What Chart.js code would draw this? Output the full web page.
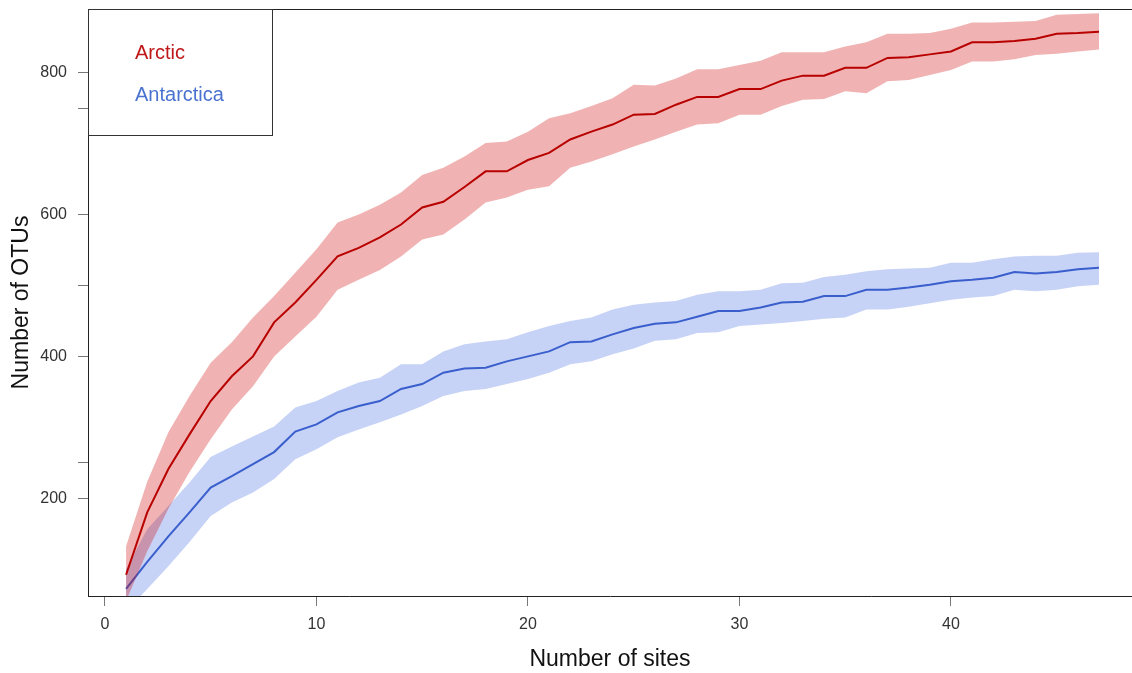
<!DOCTYPE html>
<html>
<head>
<meta charset="utf-8">
<style>
  body { margin: 0; background: #fff; }
  canvas { display: block; }
</style>
<script src="https://cdn.jsdelivr.net/npm/chart.js@4.4.1/dist/chart.umd.min.js"></script>
</head>
<body>
<canvas id="chart" width="1132" height="673"></canvas>
<script>
const sites = [1, 2, 3, 4, 5, 6, 7, 8, 9, 10, 11, 12, 13, 14, 15, 16, 17, 18, 19, 20, 21, 22, 23, 24,
  25, 26, 27, 28, 29, 30, 31, 32, 33, 34, 35, 36, 37, 38, 39, 40, 41, 42, 43, 44, 45, 46, 47];

const arcticMean = [92, 180, 241, 290, 337, 372, 400, 448, 476, 508, 541, 553, 568, 586, 610, 618,
  639, 661, 661, 677, 687, 706, 717, 727, 741, 742, 755, 766, 766, 777, 777, 789, 796, 796, 807, 807,
  821, 822, 826, 830, 843, 843, 845, 848, 855, 856, 858];
const arcticUpper = [132, 223, 293, 344, 391, 420, 455, 485, 518, 551, 589, 600, 614, 631, 656, 666,
  682, 701, 703, 717, 736, 743, 753, 764, 783, 782, 792, 805, 805, 811, 817, 829, 829, 829, 837, 843,
  855, 855, 856, 862, 871, 871, 872, 873, 882, 883, 884];
const arcticLower = [55, 125, 185, 237, 283, 325, 358, 400, 428, 456, 494, 508, 522, 541, 565, 572,
  593, 617, 624, 635, 640, 666, 675, 685, 696, 706, 717, 727, 729, 741, 741, 753, 762, 763, 774, 771,
  788, 790, 797, 804, 816, 816, 819, 825, 827, 830, 833];

const antarcticaMean = [72, 110, 146, 180, 215, 231, 248, 265, 294, 304, 321, 330, 337, 354, 361, 377,
  383, 384, 393, 400, 407, 420, 421, 431, 440, 446, 448, 456, 464, 464, 469, 476, 477, 485, 485, 494,
  494, 497, 501, 506, 508, 511, 519, 517, 519, 523, 525];
const antarcticaUpper = [100, 156, 189, 222, 258, 273, 287, 301, 328, 337, 351, 363, 370, 389, 389, 407,
  417, 421, 424, 434, 443, 450, 455, 466, 473, 476, 478, 487, 492, 492, 494, 503, 504, 512, 515, 520,
  523, 524, 525, 532, 532, 537, 541, 542, 542, 546, 547];
const antarcticaLower = [40, 72, 104, 138, 175, 194, 208, 227, 255, 269, 286, 297, 307, 318, 330, 344,
  351, 354, 361, 368, 377, 389, 393, 403, 411, 422, 424, 433, 434, 443, 445, 447, 450, 453, 455, 466,
  466, 470, 475, 480, 483, 485, 494, 492, 494, 499, 501];

const xTicks = [0, 10, 20, 30, 40];
const yTicks = [200, 250, 400, 500, 600, 750, 800];
const yLabelled = [200, 400, 600, 800];

const toPoints = (vals) => vals.map((v, i) => ({ x: sites[i], y: v }));

const FONT = "'Liberation Sans', Arial, Helvetica, sans-serif";

// box top edge, legend and axis titles
const extras = {
  id: "extras",
  afterDraw(chart) {
    const { ctx, chartArea } = chart;
    ctx.save();
    ctx.strokeStyle = "#222";
    ctx.lineWidth = 1;
    ctx.beginPath();
    ctx.moveTo(chartArea.left, chartArea.top + 0.5);
    ctx.lineTo(chartArea.right, chartArea.top + 0.5);
    ctx.stroke();

    // legend
    ctx.fillStyle = "#fff";
    ctx.fillRect(chartArea.left + 1, chartArea.top + 1, 183, 125);
    ctx.strokeStyle = "#333";
    ctx.strokeRect(chartArea.left + 0.5, chartArea.top + 0.5, 184, 126);
    ctx.font = "20px " + FONT;
    ctx.textAlign = "left";
    ctx.textBaseline = "alphabetic";
    ctx.fillStyle = "#c01818";
    ctx.fillText("Arctic", 135, 59);
    ctx.fillStyle = "#4a72d0";
    ctx.fillText("Antarctica", 135, 101);

    // axis titles
    ctx.fillStyle = "#111";
    ctx.font = "23px " + FONT;
    ctx.textAlign = "center";
    ctx.textBaseline = "middle";
    ctx.fillText("Number of sites", (chartArea.left + chartArea.right) / 2, 660);
    ctx.translate(22, (chartArea.top + chartArea.bottom) / 2);
    ctx.rotate(-Math.PI / 2);
    ctx.fillText("Number of OTUs", 0, 0);
    ctx.restore();
  },
};

const noPoint = { pointRadius: 0, pointHoverRadius: 0 };

new Chart(document.getElementById("chart"), {
  type: "line",
  data: {
    datasets: [
      { label: "Arctic", data: toPoints(arcticMean), borderColor: "#b80000", borderWidth: 2, fill: false, ...noPoint },
      { label: "Arctic upper", data: toPoints(arcticUpper), borderWidth: 0, borderColor: "transparent",
        backgroundColor: "rgba(205, 0, 0, 0.3)", fill: "+1", ...noPoint },
      { label: "Arctic lower", data: toPoints(arcticLower), borderWidth: 0, borderColor: "transparent", fill: false, ...noPoint },
      { label: "Antarctica", data: toPoints(antarcticaMean), borderColor: "#3a5fcd", borderWidth: 2, fill: false, ...noPoint },
      { label: "Antarctica upper", data: toPoints(antarcticaUpper), borderWidth: 0, borderColor: "transparent",
        backgroundColor: "rgba(65, 105, 225, 0.3)", fill: "+1", ...noPoint },
      { label: "Antarctica lower", data: toPoints(antarcticaLower), borderWidth: 0, borderColor: "transparent", fill: false, ...noPoint },
    ],
  },
  options: {
    responsive: false,
    animation: false,
    layout: { padding: { top: 9, right: 0, left: 0, bottom: 0 } },
    plugins: { legend: { display: false }, tooltip: { enabled: false } },
    elements: { line: { tension: 0 } },
    scales: {
      x: {
        type: "linear",
        min: -0.8,
        max: 48.56,
        afterBuildTicks: (s) => { s.ticks = xTicks.map((v) => ({ value: v })); },
        afterFit: (s) => { s.height = 77; s.paddingLeft = 0; s.paddingRight = 0; },
        ticks: { color: "#333", font: { family: FONT, size: 16 }, padding: 9, maxRotation: 0 },
        grid: { drawOnChartArea: false, drawTicks: true, tickLength: 10, color: "#777" },
        border: { display: true, color: "#222", width: 1 },
      },
      y: {
        type: "linear",
        min: 62,
        max: 890,
        afterBuildTicks: (s) => { s.ticks = yTicks.map((v) => ({ value: v })); },
        afterFit: (s) => { s.width = 88; s.paddingTop = 0; s.paddingBottom = 0; },
        ticks: {
          color: "#333",
          font: { family: FONT, size: 16 },
          padding: 11,
          callback: (v) => (yLabelled.includes(v) ? String(v) : ""),
        },
        grid: { drawOnChartArea: false, drawTicks: true, tickLength: 10, color: "#777" },
        border: { display: true, color: "#222", width: 1 },
      },
    },
  },
  plugins: [extras],
});
</script>
</body>
</html>
